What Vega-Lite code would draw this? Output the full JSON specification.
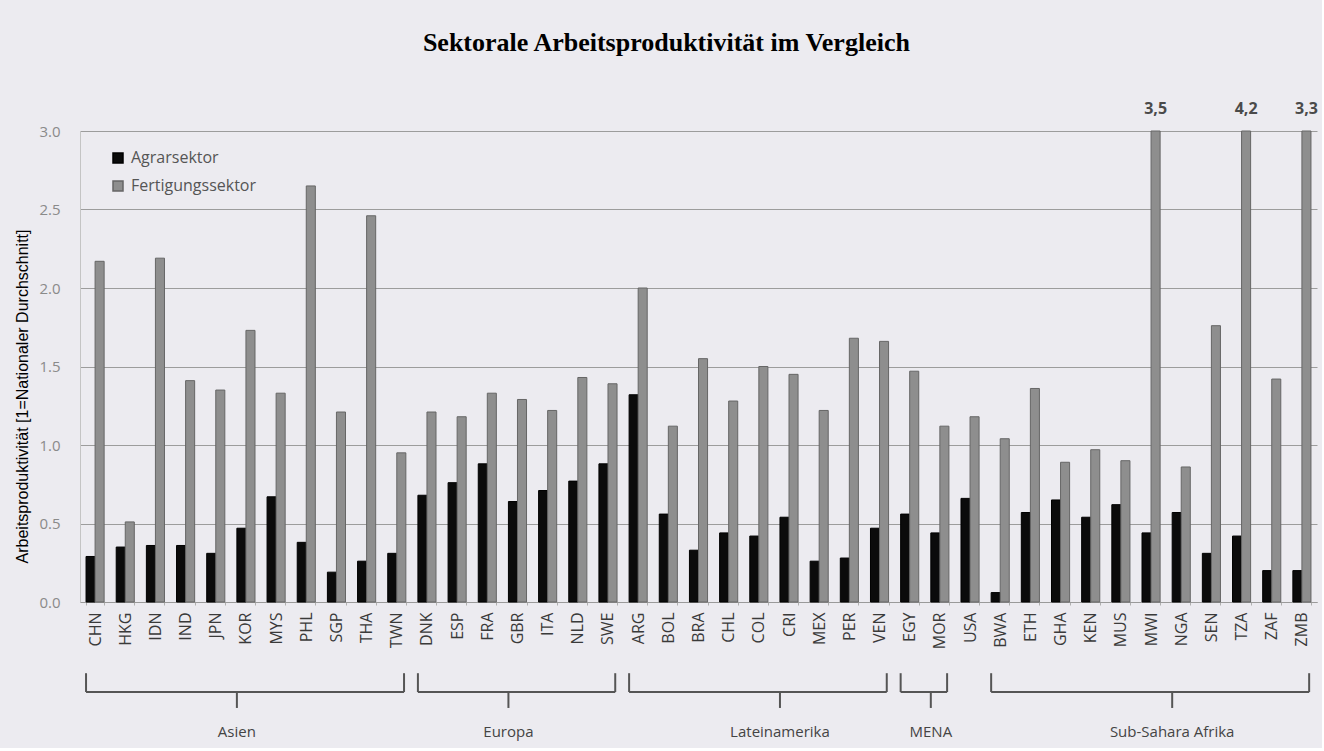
{
  "$schema": "https://vega.github.io/schema/vega-lite/v6.json",
  "background": "#ECEBF0",
  "padding": {"left": 14, "right": 4, "top": 30, "bottom": 0},
  "title": {"text": "Sektorale Arbeitsproduktivität im Vergleich", "font": "Liberation Serif", "fontSize": 26, "fontWeight": "bold", "color": "#000000", "anchor": "middle", "offset": 45},
  "config": {
    "view": {"stroke": null},
    "locale": {"number": {"decimal": ",", "thousands": ".", "grouping": [3], "currency": ["", " €"]}}
  },
  "datasets": {
    "bars": [
      {"country": "CHN", "region": "Asien", "sector": "Agrarsektor", "value": 0.29},
      {"country": "CHN", "region": "Asien", "sector": "Fertigungssektor", "value": 2.17},
      {"country": "HKG", "region": "Asien", "sector": "Agrarsektor", "value": 0.35},
      {"country": "HKG", "region": "Asien", "sector": "Fertigungssektor", "value": 0.51},
      {"country": "IDN", "region": "Asien", "sector": "Agrarsektor", "value": 0.36},
      {"country": "IDN", "region": "Asien", "sector": "Fertigungssektor", "value": 2.19},
      {"country": "IND", "region": "Asien", "sector": "Agrarsektor", "value": 0.36},
      {"country": "IND", "region": "Asien", "sector": "Fertigungssektor", "value": 1.41},
      {"country": "JPN", "region": "Asien", "sector": "Agrarsektor", "value": 0.31},
      {"country": "JPN", "region": "Asien", "sector": "Fertigungssektor", "value": 1.35},
      {"country": "KOR", "region": "Asien", "sector": "Agrarsektor", "value": 0.47},
      {"country": "KOR", "region": "Asien", "sector": "Fertigungssektor", "value": 1.73},
      {"country": "MYS", "region": "Asien", "sector": "Agrarsektor", "value": 0.67},
      {"country": "MYS", "region": "Asien", "sector": "Fertigungssektor", "value": 1.33},
      {"country": "PHL", "region": "Asien", "sector": "Agrarsektor", "value": 0.38},
      {"country": "PHL", "region": "Asien", "sector": "Fertigungssektor", "value": 2.65},
      {"country": "SGP", "region": "Asien", "sector": "Agrarsektor", "value": 0.19},
      {"country": "SGP", "region": "Asien", "sector": "Fertigungssektor", "value": 1.21},
      {"country": "THA", "region": "Asien", "sector": "Agrarsektor", "value": 0.26},
      {"country": "THA", "region": "Asien", "sector": "Fertigungssektor", "value": 2.46},
      {"country": "TWN", "region": "Asien", "sector": "Agrarsektor", "value": 0.31},
      {"country": "TWN", "region": "Asien", "sector": "Fertigungssektor", "value": 0.95},
      {"country": "DNK", "region": "Europa", "sector": "Agrarsektor", "value": 0.68},
      {"country": "DNK", "region": "Europa", "sector": "Fertigungssektor", "value": 1.21},
      {"country": "ESP", "region": "Europa", "sector": "Agrarsektor", "value": 0.76},
      {"country": "ESP", "region": "Europa", "sector": "Fertigungssektor", "value": 1.18},
      {"country": "FRA", "region": "Europa", "sector": "Agrarsektor", "value": 0.88},
      {"country": "FRA", "region": "Europa", "sector": "Fertigungssektor", "value": 1.33},
      {"country": "GBR", "region": "Europa", "sector": "Agrarsektor", "value": 0.64},
      {"country": "GBR", "region": "Europa", "sector": "Fertigungssektor", "value": 1.29},
      {"country": "ITA", "region": "Europa", "sector": "Agrarsektor", "value": 0.71},
      {"country": "ITA", "region": "Europa", "sector": "Fertigungssektor", "value": 1.22},
      {"country": "NLD", "region": "Europa", "sector": "Agrarsektor", "value": 0.77},
      {"country": "NLD", "region": "Europa", "sector": "Fertigungssektor", "value": 1.43},
      {"country": "SWE", "region": "Europa", "sector": "Agrarsektor", "value": 0.88},
      {"country": "SWE", "region": "Europa", "sector": "Fertigungssektor", "value": 1.39},
      {"country": "ARG", "region": "Lateinamerika", "sector": "Agrarsektor", "value": 1.32},
      {"country": "ARG", "region": "Lateinamerika", "sector": "Fertigungssektor", "value": 2.0},
      {"country": "BOL", "region": "Lateinamerika", "sector": "Agrarsektor", "value": 0.56},
      {"country": "BOL", "region": "Lateinamerika", "sector": "Fertigungssektor", "value": 1.12},
      {"country": "BRA", "region": "Lateinamerika", "sector": "Agrarsektor", "value": 0.33},
      {"country": "BRA", "region": "Lateinamerika", "sector": "Fertigungssektor", "value": 1.55},
      {"country": "CHL", "region": "Lateinamerika", "sector": "Agrarsektor", "value": 0.44},
      {"country": "CHL", "region": "Lateinamerika", "sector": "Fertigungssektor", "value": 1.28},
      {"country": "COL", "region": "Lateinamerika", "sector": "Agrarsektor", "value": 0.42},
      {"country": "COL", "region": "Lateinamerika", "sector": "Fertigungssektor", "value": 1.5},
      {"country": "CRI", "region": "Lateinamerika", "sector": "Agrarsektor", "value": 0.54},
      {"country": "CRI", "region": "Lateinamerika", "sector": "Fertigungssektor", "value": 1.45},
      {"country": "MEX", "region": "Lateinamerika", "sector": "Agrarsektor", "value": 0.26},
      {"country": "MEX", "region": "Lateinamerika", "sector": "Fertigungssektor", "value": 1.22},
      {"country": "PER", "region": "Lateinamerika", "sector": "Agrarsektor", "value": 0.28},
      {"country": "PER", "region": "Lateinamerika", "sector": "Fertigungssektor", "value": 1.68},
      {"country": "VEN", "region": "Lateinamerika", "sector": "Agrarsektor", "value": 0.47},
      {"country": "VEN", "region": "Lateinamerika", "sector": "Fertigungssektor", "value": 1.66},
      {"country": "EGY", "region": "MENA", "sector": "Agrarsektor", "value": 0.56},
      {"country": "EGY", "region": "MENA", "sector": "Fertigungssektor", "value": 1.47},
      {"country": "MOR", "region": "MENA", "sector": "Agrarsektor", "value": 0.44},
      {"country": "MOR", "region": "MENA", "sector": "Fertigungssektor", "value": 1.12},
      {"country": "USA", "region": "", "sector": "Agrarsektor", "value": 0.66},
      {"country": "USA", "region": "", "sector": "Fertigungssektor", "value": 1.18},
      {"country": "BWA", "region": "Sub-Sahara Afrika", "sector": "Agrarsektor", "value": 0.06},
      {"country": "BWA", "region": "Sub-Sahara Afrika", "sector": "Fertigungssektor", "value": 1.04},
      {"country": "ETH", "region": "Sub-Sahara Afrika", "sector": "Agrarsektor", "value": 0.57},
      {"country": "ETH", "region": "Sub-Sahara Afrika", "sector": "Fertigungssektor", "value": 1.36},
      {"country": "GHA", "region": "Sub-Sahara Afrika", "sector": "Agrarsektor", "value": 0.65},
      {"country": "GHA", "region": "Sub-Sahara Afrika", "sector": "Fertigungssektor", "value": 0.89},
      {"country": "KEN", "region": "Sub-Sahara Afrika", "sector": "Agrarsektor", "value": 0.54},
      {"country": "KEN", "region": "Sub-Sahara Afrika", "sector": "Fertigungssektor", "value": 0.97},
      {"country": "MUS", "region": "Sub-Sahara Afrika", "sector": "Agrarsektor", "value": 0.62},
      {"country": "MUS", "region": "Sub-Sahara Afrika", "sector": "Fertigungssektor", "value": 0.9},
      {"country": "MWI", "region": "Sub-Sahara Afrika", "sector": "Agrarsektor", "value": 0.44},
      {"country": "MWI", "region": "Sub-Sahara Afrika", "sector": "Fertigungssektor", "value": 3.5},
      {"country": "NGA", "region": "Sub-Sahara Afrika", "sector": "Agrarsektor", "value": 0.57},
      {"country": "NGA", "region": "Sub-Sahara Afrika", "sector": "Fertigungssektor", "value": 0.86},
      {"country": "SEN", "region": "Sub-Sahara Afrika", "sector": "Agrarsektor", "value": 0.31},
      {"country": "SEN", "region": "Sub-Sahara Afrika", "sector": "Fertigungssektor", "value": 1.76},
      {"country": "TZA", "region": "Sub-Sahara Afrika", "sector": "Agrarsektor", "value": 0.42},
      {"country": "TZA", "region": "Sub-Sahara Afrika", "sector": "Fertigungssektor", "value": 4.2},
      {"country": "ZAF", "region": "Sub-Sahara Afrika", "sector": "Agrarsektor", "value": 0.2},
      {"country": "ZAF", "region": "Sub-Sahara Afrika", "sector": "Fertigungssektor", "value": 1.42},
      {"country": "ZMB", "region": "Sub-Sahara Afrika", "sector": "Agrarsektor", "value": 0.2},
      {"country": "ZMB", "region": "Sub-Sahara Afrika", "sector": "Fertigungssektor", "value": 3.3}
    ],
    "groups": [
      {"group": "Asien", "first": "CHN", "last": "TWN", "mid": "KOR"},
      {"group": "Europa", "first": "DNK", "last": "SWE", "mid": "GBR"},
      {"group": "Lateinamerika", "first": "ARG", "last": "VEN", "mid": "CRI"},
      {"group": "MENA", "first": "EGY", "last": "MOR", "mid": "MOR"},
      {"group": "Sub-Sahara Afrika", "first": "BWA", "last": "ZMB", "mid": "NGA"}
    ]
  },
  "spacing": 11,
  "resolve": {"scale": {"x": "shared", "y": "independent"}},
  "vconcat": [
    {
      "width": 1237,
      "height": 471,
      "data": {"name": "bars"},
      "encoding": {
        "x": {
          "field": "country", "type": "nominal", "sort": null,
          "scale": {"domain": ["CHN","HKG","IDN","IND","JPN","KOR","MYS","PHL","SGP","THA","TWN","DNK","ESP","FRA","GBR","ITA","NLD","SWE","ARG","BOL","BRA","CHL","COL","CRI","MEX","PER","VEN","EGY","MOR","USA","BWA","ETH","GHA","KEN","MUS","MWI","NGA","SEN","TZA","ZAF","ZMB"], "paddingInner": 0.4, "paddingOuter": 0.2},
          "axis": {"title": null, "labelAngle": -90, "labelColor": "#3a3a3a", "labelFont": "Open Sans", "labelFontSize": 16, "labelPadding": 7, "domainColor": "#9a9a9a", "tickColor": "#b0b0b0", "tickSize": 3, "tickBand": "extent", "grid": false}
        },
        "xOffset": {"field": "sector", "type": "nominal", "sort": ["Agrarsektor", "Fertigungssektor"]},
        "y": {
          "field": "value", "type": "quantitative",
          "scale": {"domain": [0, 3], "clamp": true, "nice": false},
          "axis": {"values": [0, 0.5, 1, 1.5, 2, 2.5, 3], "format": ".1f", "labelExpr": "replace(datum.label, ',', '.')", "labelColor": "#8a8a8a", "labelFont": "Open Sans", "labelFontSize": 15, "labelPadding": 20, "ticks": false, "domainColor": "#c4c4c4", "gridColor": "#9c9c9c", "gridWidth": 1, "title": "Arbeitsproduktivität [1=Nationaler Durchschnitt]", "titleFont": "Liberation Sans", "titleFontSize": 16, "titleFontWeight": "normal", "titleColor": "#000000", "titlePadding": 8, "titleY": 265}
        }
      },
      "layer": [
        {
          "mark": {"type": "bar", "strokeWidth": 1},
          "encoding": {
            "color": {"field": "sector", "type": "nominal", "scale": {"domain": ["Agrarsektor", "Fertigungssektor"], "range": ["#0b0b0b", "#8e8e8e"]},
              "legend": {"title": null, "orient": "none", "legendX": 30, "legendY": 19, "symbolType": "square", "symbolSize": 100, "labelFont": "Open Sans", "labelFontSize": 16, "labelColor": "#555555", "rowPadding": 12, "labelOffset": 5}},
            "stroke": {"field": "sector", "type": "nominal", "scale": {"domain": ["Agrarsektor", "Fertigungssektor"], "range": ["#000000", "#666666"]}, "legend": null}
          }
        },
        {
          "transform": [{"filter": "datum.value > 3"}],
          "mark": {"type": "text", "dy": -22, "baseline": "middle", "font": "Open Sans", "fontSize": 16, "fontWeight": "bold", "color": "#4a4a4a"},
          "encoding": {"text": {"field": "value", "type": "quantitative", "format": ".1f"}}
        }
      ]
    },
    {
      "width": 1237,
      "height": 88,
      "data": {"name": "groups"},
      "layer": [
        {
          "mark": {"type": "rule", "color": "#555555", "strokeWidth": 2},
          "encoding": {
            "x": {"field": "first", "type": "nominal", "bandPosition": 0, "sort": null, "axis": null,
              "scale": {"domain": ["CHN","HKG","IDN","IND","JPN","KOR","MYS","PHL","SGP","THA","TWN","DNK","ESP","FRA","GBR","ITA","NLD","SWE","ARG","BOL","BRA","CHL","COL","CRI","MEX","PER","VEN","EGY","MOR","USA","BWA","ETH","GHA","KEN","MUS","MWI","NGA","SEN","TZA","ZAF","ZMB"]}},
            "x2": {"field": "last", "bandPosition": 0.9},
            "y": {"datum": 0.636, "type": "quantitative", "scale": {"domain": [0, 1]}, "axis": null}
          }
        },
        {
          "mark": {"type": "rule", "color": "#555555", "strokeWidth": 2},
          "encoding": {
            "x": {"field": "first", "type": "nominal", "bandPosition": 0, "sort": null, "axis": null},
            "y": {"datum": 0.636, "type": "quantitative", "axis": null},
            "y2": {"datum": 0.85}
          }
        },
        {
          "mark": {"type": "rule", "color": "#555555", "strokeWidth": 2},
          "encoding": {
            "x": {"field": "last", "type": "nominal", "bandPosition": 0.9, "sort": null, "axis": null},
            "y": {"datum": 0.636, "type": "quantitative", "axis": null},
            "y2": {"datum": 0.85}
          }
        },
        {
          "mark": {"type": "rule", "color": "#555555", "strokeWidth": 2},
          "encoding": {
            "x": {"field": "mid", "type": "nominal", "bandPosition": 0, "sort": null, "axis": null},
            "y": {"datum": 0.636, "type": "quantitative", "axis": null},
            "y2": {"datum": 0.455}
          }
        },
        {
          "mark": {"type": "text", "baseline": "middle", "align": "center", "font": "Open Sans", "fontSize": 15, "color": "#444444"},
          "encoding": {
            "x": {"field": "mid", "type": "nominal", "bandPosition": 0, "sort": null, "axis": null},
            "y": {"datum": 0.182, "type": "quantitative", "axis": null},
            "text": {"field": "group", "type": "nominal"}
          }
        }
      ]
    }
  ]
}
